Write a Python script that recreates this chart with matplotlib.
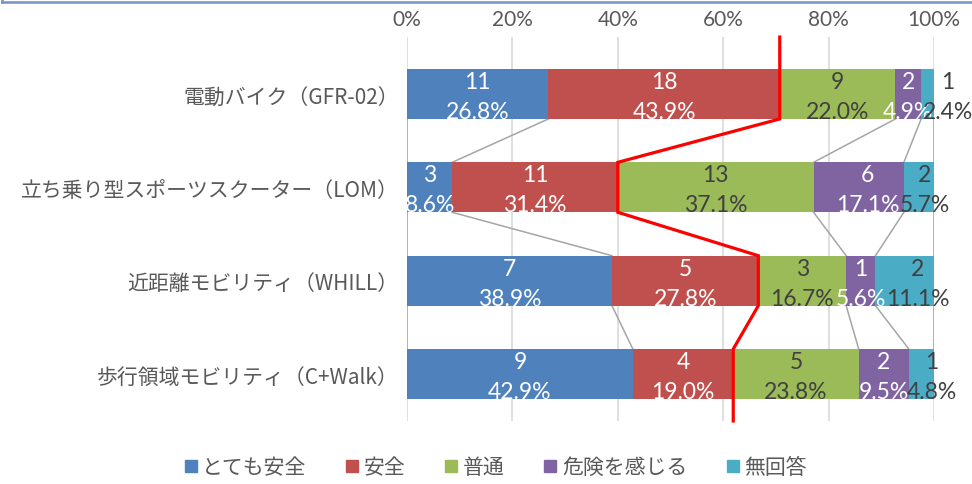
import numpy as np
import matplotlib
matplotlib.use('Agg')
import matplotlib.pyplot as plt
from matplotlib.lines import Line2D

plt.rcParams['font.family'] = ['Noto Sans CJK JP', 'DejaVu Sans']

# --- Data
categories = ['電動バイク（GFR-02）', '立ち乗り型スポーツスクーター（LOM）',
              '近距離モビリティ（WHILL）', '歩行領域モビリティ（C+Walk）']
series = ['とても安全', '安全', '普通', '危険を感じる', '無回答']
counts = np.array([
    [11, 18, 9, 2, 1],
    [3, 11, 13, 6, 2],
    [7, 5, 3, 1, 2],
    [9, 4, 5, 2, 1],
])
xticks = [0, 20, 40, 60, 80, 100]
xtick_labels = ['0%', '20%', '40%', '60%', '80%', '100%']

colors = ['#4f81bd', '#c0504d', '#9bbb59', '#8064a2', '#4bacc6']
text_colors = ['white', 'white', '#404040', 'white', '#404040']
gray = '#595959'

pct = counts / counts.sum(axis=1, keepdims=True) * 100
cum = np.hstack([np.zeros((len(categories), 1)), np.cumsum(pct, axis=1)])

# label shifts (percent units) where the labels sit off-centre in the original
shift = {(0, 4): 3.8, (1, 3): 1.7, (1, 4): 1.1, (2, 4): 2.5, (3, 4): 2.0}

fig = plt.figure(figsize=(9.72, 4.85), dpi=100)
ax = fig.add_axes([407 / 972, 1 - 422 / 485, 527 / 972, 384 / 485])

h = 0.535
y = np.arange(len(categories))

for j, s in enumerate(series):
    ax.barh(y, pct[:, j], left=cum[:, j], height=h, color=colors[j], label=s, zorder=2)

# series lines between bars
for i in range(len(categories) - 1):
    for k in range(len(series) + 1):
        ax.plot([cum[i, k], cum[i + 1, k]], [i + h / 2, i + 1 - h / 2],
                color='#a5a5a5', lw=1.1, zorder=1.5)

ylo, yhi = 3 + 0.503, -0.61
ax.set_ylim(ylo, yhi)
ax.set_xlim(0, 100)

# red line along the 安全/普通 boundary
rx, ry = [cum[0, 2]], [yhi]
for i in range(len(categories)):
    rx += [cum[i, 2], cum[i, 2]]
    ry += [i - h / 2, i + h / 2]
rx += [cum[-1, 2]]
ry += [ylo]
ax.plot(rx, ry, color='#ff0000', lw=2.3, zorder=4, clip_on=False, solid_joinstyle='miter')

# data labels: count above, percentage below
for i in range(len(categories)):
    for j in range(len(series)):
        xc = cum[i, j] + pct[i, j] / 2 + shift.get((i, j), 0)
        ax.annotate(str(counts[i, j]), (xc, i), xytext=(0, 9), textcoords='offset points',
                    ha='center', va='center', fontsize=16.5, family='Lato',
                    color=text_colors[j], zorder=5, annotation_clip=False)
        ax.annotate(f'{pct[i, j]:.1f}%', (xc, i), xytext=(0, -12.5), textcoords='offset points',
                    ha='center', va='center', fontsize=16.5, family='Lato',
                    color=text_colors[j], zorder=5, annotation_clip=False)

ax.set_xticks(xticks)
ax.set_xticklabels(xtick_labels, family='Lato', fontsize=15, color=gray)
ax.xaxis.tick_top()
ax.tick_params(axis='x', length=0, pad=6)
ax.set_yticks(y)
ax.set_yticklabels(categories, fontsize=15, color=gray)
ax.tick_params(axis='y', length=0, pad=6)
ax.grid(axis='x', color='#d9d9d9', lw=1.2, zorder=0)
ax.set_axisbelow(True)
for sp in ax.spines.values():
    sp.set_visible(False)

# legend
handles = [Line2D([], [], marker='s', ls='', markersize=8, color=c) for c in colors]
fig.legend(handles, series, loc='center', bbox_to_anchor=(0.51, 1 - 468 / 485), ncol=5,
           frameon=False, fontsize=15, handlelength=0.6, handletextpad=0.25,
           columnspacing=1.9, labelcolor=gray, borderaxespad=0)

# frame edge of the block above
fig.add_artist(Line2D([2 / 972, 1], [1 - 2.5 / 485] * 2, color='#7393c9', lw=1.8))
fig.add_artist(Line2D([2 / 972] * 2, [1 - 2.5 / 485, 1], color='#7393c9', lw=1.8))

fig.savefig('out.png', dpi=100)
